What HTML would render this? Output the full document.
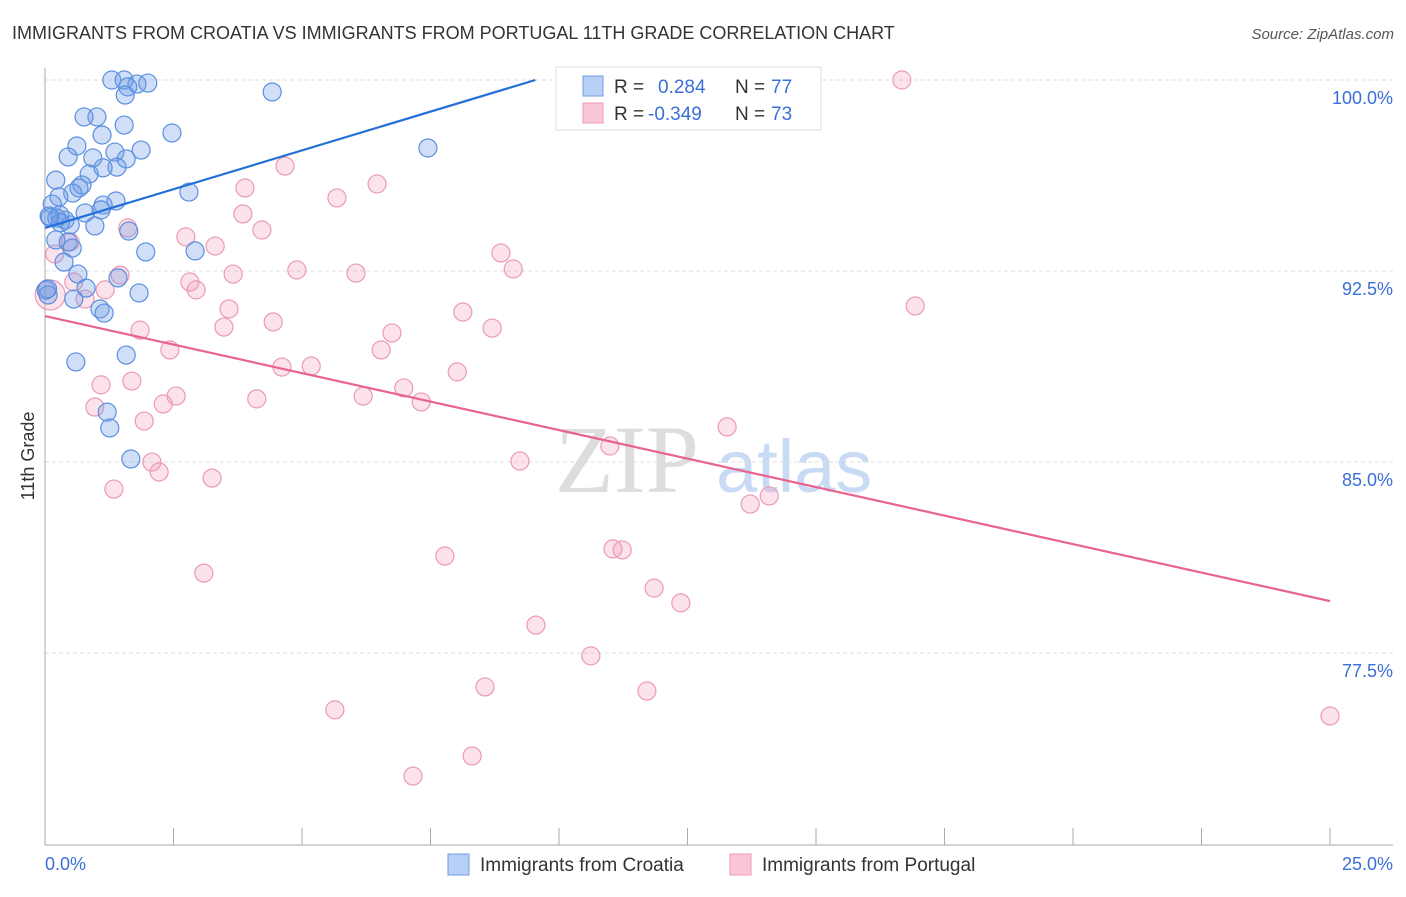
<!DOCTYPE html>
<html><head><meta charset="utf-8"><style>
body{margin:0;background:#fff;font-family:"Liberation Sans",sans-serif}
</style></head><body>
<svg width="1406" height="892" xmlns="http://www.w3.org/2000/svg" style="font-family:'Liberation Sans',sans-serif">
<text x="12" y="39" font-size="18" fill="#333">IMMIGRANTS FROM CROATIA VS IMMIGRANTS FROM PORTUGAL 11TH GRADE CORRELATION CHART</text>
<text x="1394" y="39" font-size="15" fill="#555" text-anchor="end" font-style="italic">Source: ZipAtlas.com</text>
<g>
<text x="555" y="492" font-size="96" fill="#ddd" font-family="Liberation Serif,serif">ZIP</text>
<text x="716" y="492" font-size="74" fill="#c9daf5">atlas</text>
</g>
<g id="grid"></g>
<g id="axes"></g>
<g id="marks"></g>
<text transform="translate(34,456) rotate(-90)" font-size="18" fill="#333" text-anchor="middle">11th Grade</text>
<text x="45" y="870" font-size="18" fill="#3a6fd8">0.0%</text>
<text x="1393" y="870" font-size="18" fill="#3a6fd8" text-anchor="end">25.0%</text>
<g>
<rect x="556" y="67" width="265" height="63" fill="#fff" stroke="#ddd"/>
<rect x="583" y="76" width="20" height="20" fill="#b8d0f5" stroke="#6f9be6"/>
<rect x="583" y="103" width="20" height="20" fill="#f9c6d6" stroke="#ee9ab5"/>
<text x="614" y="93" font-size="19" fill="#333">R = <tspan x="658" fill="#3a6fd8">0.284</tspan><tspan x="735" fill="#333">N = </tspan><tspan x="771" fill="#3a6fd8">77</tspan></text>
<text x="614" y="120" font-size="19" fill="#333">R = <tspan x="648" fill="#3a6fd8">-0.349</tspan><tspan x="735" fill="#333">N = </tspan><tspan x="771" fill="#3a6fd8">73</tspan></text>
</g>
<g>
<rect x="448" y="854" width="21" height="21" fill="#b8d0f5" stroke="#6f9be6"/>
<text x="480" y="871" font-size="19" fill="#333">Immigrants from Croatia</text>
<rect x="730" y="854" width="21" height="21" fill="#f9c6d6" stroke="#ee9ab5"/>
<text x="762" y="871" font-size="19" fill="#333">Immigrants from Portugal</text>
</g>
</svg>
<script>
const yTicks=[100,92.5,85,77.5];
const yTickLabels=["100.0%","92.5%","85.0%","77.5%"];
const xTicks=[0,2.5,5,7.5,10,12.5,15,17.5,20,22.5,25];
const croatiaX=[1.30,1.54,1.79,2.00,1.61,1.56,4.42,1.01,0.76,1.54,2.47,1.11,7.45,0.62,1.87,1.36,0.93,1.58,0.45,1.40,0.86,1.13,0.21,0.72,0.66,0.54,2.80,0.27,1.38,1.13,1.09,0.78,0.14,0.08,0.23,0.39,0.29,0.49,0.97,1.63,0.21,0.45,0.53,1.96,2.92,0.37,0.64,1.42,0.80,1.83,0.02,0.06,0.56,1.07,1.15,1.58,0.60,1.21,1.26,1.67,10.33,0.10,0.30,0.05];
const croatiaY=[100,100,99.84,99.88,99.73,99.41,99.53,98.55,98.55,98.23,97.92,97.84,97.33,97.41,97.25,97.17,96.94,96.90,96.98,96.58,96.31,96.55,96.07,95.88,95.76,95.56,95.60,95.41,95.25,95.09,94.90,94.78,95.13,94.66,94.58,94.50,94.70,94.31,94.27,94.07,93.72,93.64,93.40,93.25,93.29,92.85,92.38,92.23,91.83,91.64,91.75,91.56,91.40,91.01,90.85,89.20,88.93,86.96,86.34,85.12,100,94.6,94.4,91.8];
const portugalX=[13.89,16.67,4.67,6.46,3.89,5.68,3.85,4.22,1.61,2.74,3.31,0.49,8.87,0.19,3.66,4.90,6.05,9.11,1.46,0.56,2.82,2.94,1.17,0.78,3.58,8.13,16.93,4.44,1.85,3.48,6.75,8.70,2.43,6.54,4.61,5.18,8.02,1.09,1.69,6.98,2.55,6.19,4.12,7.32,0.97,2.30,1.93,13.27,10.99,2.08,9.24,2.22,3.25,1.34,14.09,13.72,7.78,11.05,11.23,3.09,11.85,12.37,9.55,10.62,8.56,11.71,5.64,8.31,7.16,25.0,0.10];
const portugalY=[100,100,96.62,95.92,95.76,95.37,94.74,94.11,94.19,93.84,93.48,93.64,93.21,93.17,92.38,92.54,92.42,92.58,92.34,92.07,92.07,91.76,91.76,91.40,91.01,90.89,91.13,90.50,90.18,90.30,90.07,90.26,89.40,89.40,88.73,88.77,88.54,88.03,88.18,87.91,87.59,87.59,87.48,87.36,87.16,87.28,86.61,86.38,85.63,85.00,85.04,84.61,84.37,83.94,83.67,83.35,81.31,81.59,81.55,80.64,80.05,79.47,78.60,77.39,76.17,76.01,75.27,73.46,72.67,75.03,91.56];
const croatiaTrend=[94.19,0.609]; // intercept, slope per %
const portugalTrend=[90.73,-0.4476];
const xs=v=>45+v*51.4, ys=v=>80+(100-v)*25.47;
const NS="http://www.w3.org/2000/svg";
function mk(tag,parent,attrs){const e=document.createElementNS(NS,tag);for(const k in attrs)e.setAttribute(k,attrs[k]);document.getElementById(parent).appendChild(e);return e;}
yTicks.forEach((t,i)=>{
 const l=mk('line','grid',{x1:45,x2:1393,y1:ys(t),y2:ys(t),stroke:'#ddd','stroke-dasharray':'4,3'});
 
 
 const tx=mk('text','grid',{x:1393,y:ys(t)+24,'font-size':18,fill:'#3a6fd8','text-anchor':'end'});
 tx.textContent=yTickLabels[i];
 
 
});
const ya=mk('line','axes',{x1:45,x2:45,y1:68,y2:845,stroke:'#aaa'});


const xa=mk('line','axes',{x1:45,x2:1393,y1:845,y2:845,stroke:'#aaa'});


xTicks.forEach(t=>{
 const l=mk('line','axes',{x1:xs(t),x2:xs(t),y1:828,y2:845,stroke:'#aaa'});
 
 
});
function pts(X,Y,fill,stroke,name){X.forEach((x,i)=>{
 const c=mk('circle','marks',{cx:xs(x),cy:ys(Y[i]),r:(name==='portugal-point'&&i===X.length-1)?15:9,fill:fill,stroke:stroke,'stroke-width':1.2});
 
 
});}
pts(portugalX,portugalY,'rgba(244,160,188,0.3)','#eb9ab4','portugal-point');
pts(croatiaX,croatiaY,'rgba(110,155,230,0.32)','#5b8fe0','croatia-point');
let bx2=Math.min(25,(100-croatiaTrend[0])/croatiaTrend[1]);
const bl=mk('line','marks',{x1:xs(0),y1:ys(croatiaTrend[0]),x2:xs(bx2),y2:ys(croatiaTrend[0]+croatiaTrend[1]*bx2),stroke:'#2270d8','stroke-width':2.2});


const pl=mk('line','marks',{x1:xs(0),y1:ys(portugalTrend[0]),x2:xs(25),y2:ys(portugalTrend[0]+portugalTrend[1]*25),stroke:'#e8648f','stroke-width':2.2});


</script>
</body></html>
